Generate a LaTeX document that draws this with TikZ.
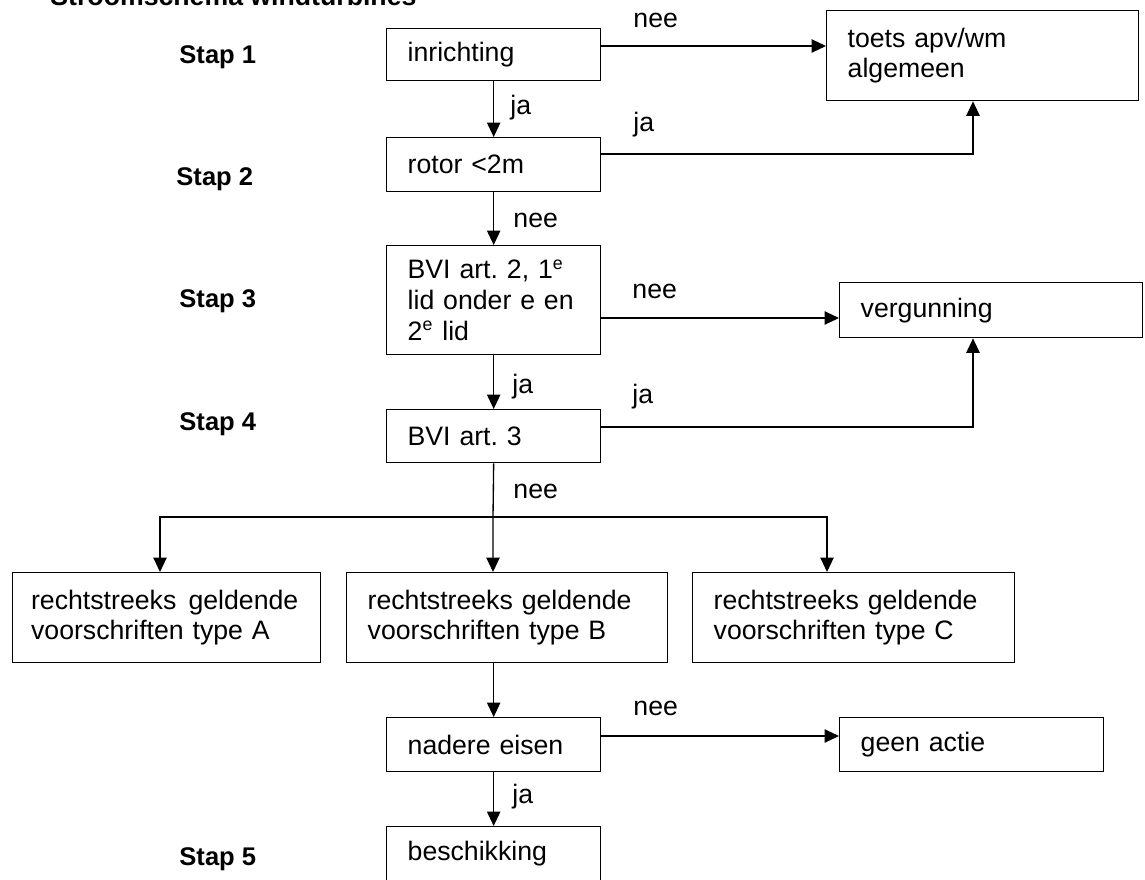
\documentclass[tikz,border=0pt]{standalone}
\usepackage{fontspec}
\setmainfont{Liberation Sans}
\usetikzlibrary{arrows.meta,calc}
\frenchspacing
\tikzset{
  blok/.style={draw, line width=0.6pt, anchor=north west, align=left, inner xsep=9.45pt, inner ysep=2pt, font=\fontsize{12}{13.8}\selectfont},
  pijl/.style={line width=0.6pt, -{Triangle[length=6.5pt,width=6pt]}},
  antw/.style={anchor=base west, inner sep=0pt, font=\fontsize{12}{13.8}\selectfont},
  stap/.style={anchor=base west, inner sep=0pt, font=\fontsize{11.5}{13.8}\selectfont\bfseries}
}
\begin{document}
\begin{tikzpicture}[x=0.45pt,y=0.45pt,yscale=-1,xscale=1]
\useasboundingbox (0,0) rectangle (1145,879);

% Text Node
\node [anchor=base west, inner sep=0pt, font=\fontsize{12}{14}\selectfont\bfseries] (titel) at (50,5) {Stroomschema windturbines};

%Shape: Rectangle [inrichting]
\node [blok, text width=77.4pt, minimum height=23.4pt] (inrichting) at (386,28) {inrichting};
%Shape: Rectangle [rotor]
\node [blok, text width=77.4pt, minimum height=24.3pt] (rotor) at (386,137) {rotor <2m};
%Shape: Rectangle [bvi2]
\node [blok, text width=77.4pt, minimum height=49.05pt] (bvi2) at (386,245) {BVI art. 2, 1\textsuperscript{e}\\lid onder e en\\2\textsuperscript{e} lid};
%Shape: Rectangle [bvi3]
\node [blok, text width=77.4pt, minimum height=23.85pt] (bvi3) at (386,409) {BVI art. 3};
%Shape: Rectangle [toets]
\node [blok, text width=121.5pt, minimum height=40.5pt] (toets) at (826,10) {toets apv/wm\\algemeen};
%Shape: Rectangle [vergunning]
\node [blok, text width=117.45pt, minimum height=24.75pt] (vergunning) at (839,282) {vergunning};
%Shape: Rectangle [type A, B, C]
\node [blok, text width=122pt, inner xsep=8.3pt, minimum height=40.5pt] (typeA) at (12,572) {rechtstreeks\hspace{1.5pt} geldende\\voorschriften type A};
\node [blok, text width=125.55pt, minimum height=40.5pt] (typeB) at (346,572) {rechtstreeks geldende\\voorschriften type B};
\node [blok, text width=126pt, minimum height=40.5pt] (typeC) at (692,572) {rechtstreeks geldende\\voorschriften type C};
%Shape: Rectangle [nadere eisen]
\node [blok, text width=77.4pt, minimum height=24.3pt] (nadere) at (386,717) {nadere eisen};
%Shape: Rectangle [geen actie]
\node [blok, text width=99.9pt, minimum height=24.3pt] (geenactie) at (839,717) {geen actie};
%Shape: Rectangle [beschikking]
\node [blok, text width=77.4pt, minimum height=24.3pt] (beschikking) at (386,826) {beschikking};

%Straight Lines
\draw [pijl] (inrichting.south) -- (rotor.north);
\draw [pijl] (rotor.south) -- (bvi2.north);
\draw [pijl] (bvi2.south) -- (bvi3.north);
\coordinate (splitsing) at (493,517);
\draw [pijl] (bvi3.south) -- (splitsing) -- (splitsing |- typeB.north);
\draw [pijl] (splitsing) -| ($(typeA.north west)+(148,0)$);
\draw [pijl] (splitsing) -| ($(typeC.north west)+(135,0)$);
\draw [pijl] (typeB.south -| nadere.north) -- (nadere.north);
\draw [pijl] (nadere.south) -- (beschikking.north);

%Straight Lines [zijtakken]
\draw [pijl] ($(inrichting.north east)+(0,18)$) coordinate (uit1) -- (uit1 -| toets.west);
\draw [pijl] ($(rotor.north east)+(0,17)$) -| ($(toets.south west)+(147,0)$);
\draw [pijl] ($(bvi2.north east)+(0,73)$) coordinate (uit3) -- (uit3 -| vergunning.west);
\draw [pijl] ($(bvi3.north east)+(0,18)$) -| ($(vergunning.south west)+(134,0)$);
\draw [pijl] ($(nadere.north east)+(0,19)$) coordinate (uit5) -- (uit5 -| geenactie.west);

% Text Node
\node [antw] (nee1) at (633,27) {nee};
\node [antw] (ja1) at (510,114) {ja};
\node [antw] (ja2) at (633,131) {ja};
\node [antw] (nee2) at (513,227) {nee};
\node [antw] (nee3) at (632,298) {nee};
\node [antw] (ja3) at (512,393) {ja};
\node [antw] (ja4) at (632,403) {ja};
\node [antw] (nee4) at (513,498) {nee};
\node [antw] (nee5) at (633,715) {nee};
\node [antw] (ja5) at (512,803) {ja};

% Text Node
\node [stap] (stap1) at (179,63) {Stap 1};
\node [stap] (stap2) at (176,185) {Stap 2};
\node [stap] (stap3) at (179,307) {Stap 3};
\node [stap] (stap4) at (179,430) {Stap 4};
\node [stap] (stap5) at (179,865) {Stap 5};

\end{tikzpicture}
\end{document}
